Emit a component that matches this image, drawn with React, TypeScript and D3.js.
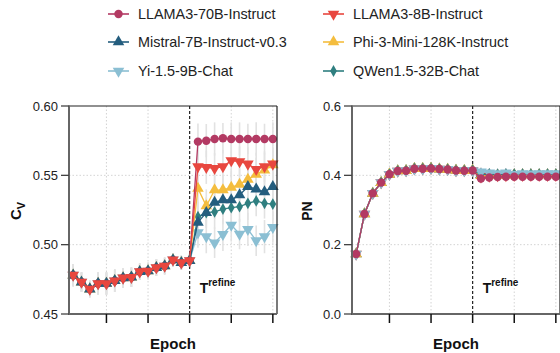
import React from 'react';
import * as d3 from 'd3';

// epochs 1..25, refinement starts after epoch 15
const epochs = [1, 2, 3, 4, 5, 6, 7, 8, 9, 10, 11, 12, 13, 14, 15, 16, 17, 18, 19, 20, 21, 22, 23, 24, 25];
const refineEpoch = 15;
const xTicks = [5, 10, 15, 20, 25];

const seriesNames = [
  'LLAMA3-70B-Instruct',
  'LLAMA3-8B-Instruct',
  'Mistral-7B-Instruct-v0.3',
  'Phi-3-Mini-128K-Instruct',
  'Yi-1.5-9B-Chat',
  'QWen1.5-32B-Chat',
];
const seriesColors = ['#b33a63', '#e8473f', '#245d7e', '#f4bd3e', '#8bbfd3', '#2f7f80'];
const seriesSymbols = ['circle', 'down', 'up', 'up', 'down', 'diamond'];

// C_V, shared before refinement
const cvBefore = [0.478, 0.473, 0.468, 0.472, 0.472, 0.474, 0.476, 0.4765, 0.4805, 0.481, 0.4834, 0.4846, 0.489, 0.487, 0.4885];
const cvBeforeErr = [0.008, 0.007, 0.006, 0.008, 0.008, 0.008, 0.007, 0.007, 0.006, 0.006, 0.006, 0.006, 0.005, 0.005, 0.005];
const cvAfter = [
  [0.5743, 0.575, 0.5762, 0.5767, 0.5762, 0.5762, 0.5762, 0.5762, 0.5762, 0.5762],
  [0.5563, 0.5558, 0.555, 0.5563, 0.5606, 0.5599, 0.5582, 0.5543, 0.5563, 0.5582],
  [0.5161, 0.5231, 0.5305, 0.5322, 0.5322, 0.5358, 0.5418, 0.5401, 0.538, 0.5418],
  [0.5406, 0.5279, 0.5394, 0.5394, 0.5413, 0.5435, 0.5471, 0.5507, 0.5538, 0.5575],
  [0.5087, 0.5058, 0.5014, 0.5075, 0.5142, 0.5077, 0.5111, 0.5029, 0.5058, 0.5125],
  [0.5202, 0.5231, 0.5236, 0.5257, 0.5267, 0.5274, 0.5298, 0.5315, 0.5298, 0.5293],
];
const cvAfterErr = [
  [0.013, 0.012, 0.012, 0.011, 0.012, 0.012, 0.011, 0.012, 0.011, 0.012],
  [0.012, 0.012, 0.011, 0.012, 0.012, 0.011, 0.012, 0.012, 0.011, 0.012],
  [0.012, 0.011, 0.012, 0.012, 0.011, 0.012, 0.012, 0.011, 0.012, 0.012],
  [0.013, 0.012, 0.012, 0.011, 0.012, 0.012, 0.011, 0.012, 0.012, 0.011],
  [0.011, 0.012, 0.011, 0.012, 0.012, 0.011, 0.012, 0.011, 0.012, 0.011],
  [0.011, 0.011, 0.012, 0.011, 0.012, 0.011, 0.012, 0.011, 0.011, 0.012],
];

// PN
const pnBefore = [0.173, 0.2885, 0.348, 0.379, 0.403, 0.4125, 0.4135, 0.419, 0.419, 0.42, 0.418, 0.417, 0.414, 0.4135, 0.414];
const pnBeforeErr = [0.006, 0.006, 0.006, 0.005, 0.005, 0.005, 0.006, 0.006, 0.006, 0.006, 0.005, 0.005, 0.005, 0.005, 0.005];
const pnAfter = [
  [0.391, 0.394, 0.395, 0.396, 0.396, 0.396, 0.396, 0.396, 0.396, 0.396],
  [0.396, 0.398, 0.399, 0.399, 0.4, 0.4, 0.4, 0.4, 0.4, 0.4],
  [0.402, 0.402, 0.401, 0.402, 0.402, 0.402, 0.402, 0.402, 0.402, 0.402],
  [0.399, 0.4, 0.4, 0.4, 0.401, 0.401, 0.401, 0.401, 0.401, 0.401],
  [0.41, 0.407, 0.405, 0.407, 0.403, 0.405, 0.404, 0.405, 0.405, 0.405],
  [0.403, 0.403, 0.402, 0.403, 0.403, 0.403, 0.403, 0.403, 0.403, 0.403],
];
const pnAfterErr = [0.014, 0.012, 0.01, 0.009, 0.009, 0.009, 0.009, 0.009, 0.009, 0.009];

const cvTicks = [0.45, 0.5, 0.55, 0.6];
const pnTicks = [0.0, 0.2, 0.4, 0.6];

const FONT = '"Liberation Sans", Arial, sans-serif';

type Pt = { x: number; y: number; e: number };

const symbolPath = (kind: string) => {
  if (kind === 'circle') return d3.symbol(d3.symbolCircle, 56)() as string;
  if (kind === 'diamond') return d3.symbol(d3.symbolDiamond, 40)() as string;
  return d3.symbol(d3.symbolTriangle, 58)() as string;
};

const Marker: React.FC<{ kind: string; x: number; y: number; color: string }> = ({ kind, x, y, color }) => (
  <path
    d={symbolPath(kind)}
    transform={`translate(${x},${y})${kind === 'down' ? ' rotate(180)' : ''}`}
    fill={color}
  />
);

interface PanelProps {
  left: number;
  yDomain: [number, number];
  ticks: number[];
  fmt: (v: number) => string;
  series: Pt[][];
  order: number[];
  label: React.ReactNode;
}

const Panel: React.FC<PanelProps> = ({ left, yDomain, ticks, fmt, series, order, label }) => {
  const top = 106;
  const bottom = 314;
  const width = 208;
  const x = d3.scaleLinear().domain([0.5, 25.5]).range([left, left + width]);
  const y = d3.scaleLinear().domain(yDomain).range([bottom, top]);
  const line = d3.line<Pt>().x(d => x(d.x)).y(d => y(d.y));

  return (
    <g>
      {/* grid */}
      {xTicks.filter(t => t !== refineEpoch).map(t => (
        <line key={'gx' + t} x1={x(t)} x2={x(t)} y1={top} y2={bottom} stroke="#c8c8c8" strokeWidth={0.8} strokeDasharray="1.5 2" />
      ))}
      {ticks.slice(1, -1).map(t => (
        <line key={'gy' + t} x1={left} x2={left + width} y1={y(t)} y2={y(t)} stroke="#c8c8c8" strokeWidth={0.8} strokeDasharray="1.5 2" />
      ))}
      {/* error bars */}
      {order.map(si =>
        series[si].map((d, i) => (
          <line key={`e${si}-${i}`} x1={x(d.x)} x2={x(d.x)} y1={y(d.y - d.e)} y2={y(d.y + d.e)} stroke="#e2e2e2" strokeWidth={1.6} />
        ))
      )}
      {/* refinement marker */}
      <line x1={x(refineEpoch)} x2={x(refineEpoch)} y1={top} y2={bottom} stroke="#222" strokeWidth={1.2} strokeDasharray="3 2" />
      {/* series */}
      {order.map(si => (
        <g key={'s' + si}>
          <path d={line(series[si]) as string} fill="none" stroke={seriesColors[si]} strokeWidth={1.3} />
          {series[si].map((d, i) => (
            <Marker key={i} kind={seriesSymbols[si]} x={x(d.x)} y={y(d.y)} color={seriesColors[si]} />
          ))}
        </g>
      ))}
      {/* frame */}
      <line x1={left} x2={left + width} y1={top} y2={top} stroke="#222" strokeWidth={1.2} />
      <line x1={left + width} x2={left + width} y1={top} y2={bottom} stroke="#222" strokeWidth={1.2} />
      <line x1={left} x2={left} y1={top - 0.6} y2={bottom + 1} stroke="#666" strokeWidth={2} />
      <line x1={left - 1} x2={left + width} y1={bottom} y2={bottom} stroke="#666" strokeWidth={2} />
      {/* y ticks */}
      {ticks.map(t => (
        <g key={'yt' + t}>
          <line x1={left - 8} x2={left} y1={y(t)} y2={y(t)} stroke="#444" strokeWidth={1.3} />
          <text x={left - 11} y={y(t)} dy="0.35em" textAnchor="end" fontSize={13} fill="#222" fontFamily={FONT}>{fmt(t)}</text>
        </g>
      ))}
      {/* x ticks */}
      {xTicks.map(t => (
        <line key={'xt' + t} x1={x(t)} x2={x(t)} y1={bottom} y2={bottom + 9} stroke="#111" strokeWidth={1.5} />
      ))}
      <text x={left + width / 2} y={349} textAnchor="middle" fontSize={15} fontWeight="bold" fill="#111" fontFamily={FONT}>Epoch</text>
      <text x={x(refineEpoch) + 10} y={293} fontSize={14} fontWeight="bold" fill="#111" fontFamily={FONT}>
        T<tspan fontSize={10} dy={-7}>refine</tspan>
      </text>
      {label}
    </g>
  );
};

const buildSeries = (before: number[], beforeErr: number[], after: number[][], afterErr: (si: number, i: number) => number): Pt[][] =>
  after.map((vals, si) =>
    epochs.map((ep, i) =>
      i < before.length
        ? { x: ep, y: before[i], e: beforeErr[i] }
        : { x: ep, y: vals[i - before.length], e: afterErr(si, i - before.length) }
    )
  );

const App: React.FC = () => {
  const cvSeries = buildSeries(cvBefore, cvBeforeErr, cvAfter, (si, i) => cvAfterErr[si][i]);
  const pnSeries = buildSeries(pnBefore, pnBeforeErr, pnAfter, (_si, i) => pnAfterErr[i]);

  const legendCols = [108, 323];
  const legendRows = [14, 42, 71];

  return (
    <svg width={560} height={353} style={{ position: 'absolute', left: 0, top: 0, background: '#fff' }} fontFamily={FONT}>
      {/* legend */}
      {seriesNames.map((name, i) => {
        const lx = legendCols[i % 2];
        const ly = legendRows[Math.floor(i / 2)];
        return (
          <g key={name}>
            <line x1={lx} x2={lx + 21} y1={ly} y2={ly} stroke={seriesColors[i]} strokeWidth={1.6} />
            <Marker kind={seriesSymbols[i]} x={lx + 10.5} y={ly} color={seriesColors[i]} />
            <text x={lx + 30} y={ly} dy="0.35em" fontSize={14.4} fill="#222">{name}</text>
          </g>
        );
      })}
      <Panel
        left={69}
        yDomain={[0.45, 0.6]}
        ticks={cvTicks}
        fmt={d3.format('.2f')}
        series={cvSeries}
        order={[4, 5, 3, 0, 2, 1]}
        label={
          <text transform="translate(21,211) rotate(-90)" textAnchor="middle" fontSize={15} fontWeight="bold" fill="#111">
            C<tspan fontSize={11} dy={4}>V</tspan>
          </text>
        }
      />
      <Panel
        left={352}
        yDomain={[0, 0.6]}
        ticks={pnTicks}
        fmt={d3.format('.1f')}
        series={pnSeries}
        order={[1, 2, 3, 5, 4, 0]}
        label={
          <text transform="translate(312,211) rotate(-90)" textAnchor="middle" fontSize={14} fontWeight="bold" fill="#111">PN</text>
        }
      />
    </svg>
  );
};

export default App;
